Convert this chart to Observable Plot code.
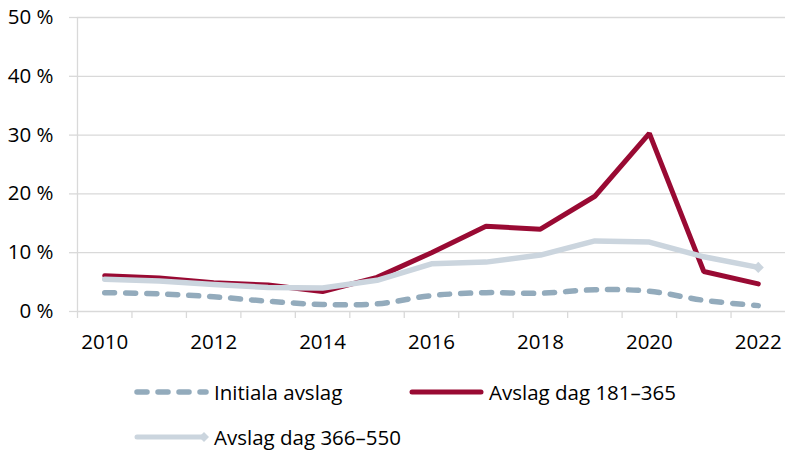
<!DOCTYPE html>
<html>
<head>
<meta charset="utf-8">
<script src="https://cdn.jsdelivr.net/npm/d3@7"></script>
<script src="https://cdn.jsdelivr.net/npm/@observablehq/plot@0.6"></script>
<style>
  html, body { margin: 0; padding: 0; background: #fff; }
  #wrap { position: relative; width: 785px; height: 450px; font-family: "Open Sans", sans-serif; color: #000; }
  #legend { position: absolute; left: 0; top: 360px; width: 785px; height: 90px; }
  .item { position: absolute; display: flex; align-items: center; font-size: 20.5px; white-space: nowrap; }
  .item svg { display: block; margin-right: 5px; }
</style>
</head>
<body>
<div id="wrap"><div id="chart"></div><div id="legend"></div></div>
<script>
const years = [2010, 2011, 2012, 2013, 2014, 2015, 2016, 2017, 2018, 2019, 2020, 2021, 2022];
const initiala = [3.2, 3.0, 2.5, 1.75, 1.2, 1.3, 2.7, 3.2, 3.1, 3.7, 3.45, 1.9, 1.0];
const dag181 = [6.1, 5.7, 4.9, 4.5, 3.4, 5.8, 10.0, 14.5, 14.0, 19.6, 30.3, 6.8, 4.7];
const dag366 = [5.5, 5.2, 4.6, 4.1, 4.0, 5.3, 8.1, 8.4, 9.6, 12.0, 11.8, 9.3, 7.5];
const yTicks = [0, 10, 20, 30, 40, 50];
const labelYears = [2010, 2012, 2014, 2016, 2018, 2020, 2022];
const seriesNames = ["Initiala avslag", "Avslag dag 181–365", "Avslag dag 366–550"];
const colors = ["#93abbc", "#990a33", "#cbd5de"];

const rows = (vals) => years.map((y, i) => ({year: y, value: vals[i]}));
const boundaries = years.map(y => y - 0.5);
const grid = "#d9d9d9";

const chart = Plot.plot({
  width: 785,
  height: 360,
  marginLeft: 77,
  marginRight: 0,
  marginTop: 17,
  marginBottom: 49,
  style: {fontFamily: "Open Sans", fontSize: "20.5px", color: "#000", background: "#fff", overflow: "visible"},
  x: {domain: [years[0] - 0.5, years[years.length - 1] + 0.5], label: null},
  y: {domain: [0, 50], label: null},
  marks: [
    Plot.ruleY(yTicks, {stroke: grid, strokeWidth: 1.3}),
    Plot.axisY(yTicks, {tickSize: 8, tickPadding: 16, stroke: grid, strokeWidth: 1.3, fill: "#000", label: null, tickFormat: d => d + " %"}),
    Plot.ruleX([years[0] - 0.5], {y1: 0, y2: 50, stroke: grid, strokeWidth: 1.3}),
    Plot.axisX(boundaries, {tickSize: 7, stroke: grid, strokeWidth: 1.3, label: null, tickFormat: () => ""}),
    Plot.axisX(labelYears, {tickSize: 0, tickPadding: 23, fill: "#000", label: null, tickFormat: d => String(d)}),
    Plot.line(rows(initiala), {x: "year", y: "value", stroke: colors[0], strokeWidth: 5.5, strokeDasharray: "10,11", strokeLinecap: "round", curve: "catmull-rom"}),
    Plot.line(rows(dag181), {x: "year", y: "value", stroke: colors[1], strokeWidth: 5, strokeLinejoin: "miter"}),
    Plot.line(rows(dag366), {x: "year", y: "value", stroke: colors[2], strokeWidth: 5.5}),
    Plot.dot(rows(dag366).slice(-1), {x: "year", y: "value", symbol: "diamond2", r: 5, fill: colors[2], stroke: "none"})
  ]
});
document.getElementById("chart").appendChild(chart);

// Legend
const legend = document.getElementById("legend");
const items = [
  {left: 134, top: 32, swatch: `<svg width="75" height="12"><line x1="3" y1="6" x2="72" y2="6" stroke="${colors[0]}" stroke-width="5.5" stroke-dasharray="10,11" stroke-linecap="round"/></svg>`, name: seriesNames[0]},
  {left: 409, top: 32, swatch: `<svg width="75" height="12"><line x1="3" y1="6" x2="72" y2="6" stroke="${colors[1]}" stroke-width="5" stroke-linecap="round"/></svg>`, name: seriesNames[1]},
  {left: 134, top: 77, swatch: `<svg width="75" height="14"><line x1="3" y1="7" x2="70" y2="7" stroke="${colors[2]}" stroke-width="5" stroke-linecap="round"/><path d="M70,2 L75,7 L70,12 L65,7 Z" fill="${colors[2]}"/></svg>`, name: seriesNames[2]}
];
for (const it of items) {
  const d = document.createElement("div");
  d.className = "item";
  d.style.left = it.left + "px";
  d.style.top = (it.top - 14) + "px";
  d.style.height = "28px";
  d.innerHTML = it.swatch + `<span>${it.name}</span>`;
  legend.appendChild(d);
}
</script>
</body>
</html>
